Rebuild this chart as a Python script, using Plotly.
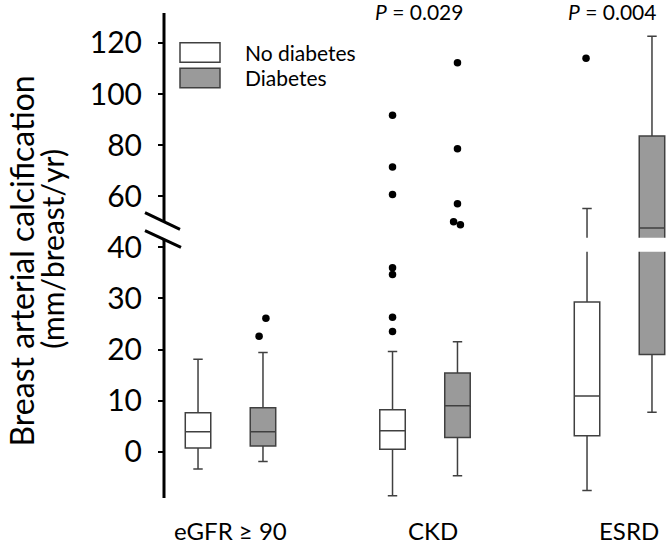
import plotly.graph_objects as go

# ---------------- data ----------------
groups = ["eGFR ≥ 90", "CKD", "ESRD"]
series_names = ["No diabetes", "Diabetes"]

nodiab_low = [-3.4, -8.6, -7.6]
nodiab_q1 = [0.7, 0.5, 3.1]
nodiab_med = [3.9, 4.1, 10.9]
nodiab_q3 = [7.6, 8.2, 29.3]
nodiab_high = [18.1, 19.6, 55.2]

diab_low = [-1.9, -4.7, 7.7]
diab_q1 = [1.1, 2.8, 19.0]
diab_med = [3.9, 9.0, 47.6]
diab_q3 = [8.6, 15.4, 83.6]
diab_high = [19.4, 21.5, 122.6]

nodiab_outliers = [[], [23.5, 26.3, 34.7, 36.0, 60.7, 71.4, 91.7], [114.0]]
diab_outliers = [[22.6, 26.1], [48.8, 50.0, 57.0, 78.6, 112.2], []]

p_values = ["", "0.029", "0.004"]
ytick_values = [0, 10, 20, 30, 40, 60, 80, 100, 120]

# ---------------- style ----------------
BREAK = 40.0          # axis break: above this the scale is compressed 2x
OFFSET = 0.167        # half distance between the two boxes in a group
BOXW = 0.131
FONT = "Lato"
LINE = "#404040"
GRAY = "#9a9a9a"
nodiab_jitter = [[], [0, 0, 0, 0, 0, 0, 0], [-0.005]]
diab_jitter = [[-0.02, 0.015], [0.015, -0.02, 0, 0, 0], []]
label_shift = [0.0, 0.04, 0.05]
p_shift = [0.0, -0.03, -0.04]

# plot-area geometry in pixels
W, H = 667, 545
L, R, T, B = 164, 0, 13, 47
PW, PH = W - L - R, H - T - B


def brk(v):
    return v if v <= BREAK else BREAK + (v - BREAK) / 2.0


def px(x):
    return (x - L) / PW


def py(y):
    return (H - B - y) / PH


fig = go.Figure()

for name, low, q1, med, q3, high, fill, sign in [
    (series_names[0], nodiab_low, nodiab_q1, nodiab_med, nodiab_q3, nodiab_high, "white", -1),
    (series_names[1], diab_low, diab_q1, diab_med, diab_q3, diab_high, GRAY, 1),
]:
    fig.add_trace(go.Box(
        name=name,
        x=[i + sign * OFFSET for i in range(len(groups))],
        lowerfence=[brk(v) for v in low],
        q1=[brk(v) for v in q1],
        median=[brk(v) for v in med],
        q3=[brk(v) for v in q3],
        upperfence=[brk(v) for v in high],
        width=BOXW,
        whiskerwidth=0.37,
        fillcolor=fill,
        line=dict(color=LINE, width=1.5),
        boxpoints=False,
        showlegend=False,
        hoverinfo="skip",
    ))

for outl, jit, sign in [(nodiab_outliers, nodiab_jitter, -1), (diab_outliers, diab_jitter, 1)]:
    xs, ys = [], []
    for i, (vals, js) in enumerate(zip(outl, jit)):
        for v, j in zip(vals, js):
            xs.append(i + sign * OFFSET + j)
            ys.append(brk(v))
    fig.add_trace(go.Scatter(x=xs, y=ys, mode="markers",
                             marker=dict(color="black", size=7.5),
                             showlegend=False, hoverinfo="skip", cliponaxis=False))

shapes = []
# gap in boxes at the break
shapes.append(dict(type="rect", xref="paper", yref="paper",
                   x0=px(170), x1=1.0, y0=py(251.7), y1=py(237.7),
                   fillcolor="white", line=dict(width=0), layer="above"))
# y axis line in two pieces
shapes.append(dict(type="line", xref="paper", yref="paper", x0=0, x1=0,
                   y0=py(T), y1=py(221.7), line=dict(color="black", width=3)))
shapes.append(dict(type="line", xref="paper", yref="paper", x0=0, x1=0,
                   y0=py(239.5), y1=py(H - B), line=dict(color="black", width=3)))
# break marks
shapes.append(dict(type="line", xref="paper", yref="paper", x0=px(145), x1=px(180),
                   y0=py(212.7), y1=py(229.3), line=dict(color="black", width=3)))
shapes.append(dict(type="line", xref="paper", yref="paper", x0=px(145), x1=px(181),
                   y0=py(230.7), y1=py(247.3), line=dict(color="black", width=3)))
# legend boxes
shapes.append(dict(type="rect", xref="paper", yref="paper", x0=px(180), x1=px(220),
                   y0=py(62.3), y1=py(42.7), fillcolor="white",
                   line=dict(color=LINE, width=1.5)))
shapes.append(dict(type="rect", xref="paper", yref="paper", x0=px(180), x1=px(220),
                   y0=py(87.7), y1=py(68.3), fillcolor=GRAY,
                   line=dict(color=LINE, width=1.5)))

annotations = []
annotations.append(dict(text=series_names[0], xref="paper", yref="paper", x=px(243), y=py(52.5),
                        xanchor="left", yanchor="middle", showarrow=False,
                        font=dict(family=FONT, size=21, color="black")))
annotations.append(dict(text=series_names[1], xref="paper", yref="paper", x=px(243), y=py(78),
                        xanchor="left", yanchor="middle", showarrow=False,
                        font=dict(family=FONT, size=21, color="black")))
for i, g in enumerate(groups):
    annotations.append(dict(text=g, xref="x", yref="paper", x=i + label_shift[i], y=py(530),
                            xanchor="center", yanchor="middle", showarrow=False,
                            font=dict(family=FONT, size=24, color="black")))
    if p_values[i]:
        annotations.append(dict(text="<i>P</i> = " + p_values[i], xref="x", yref="paper",
                                x=i + p_shift[i], y=py(11), xanchor="center", yanchor="middle",
                                showarrow=False, font=dict(family=FONT, size=21, color="black")))
annotations.append(dict(text="Breast arterial calcification", xref="paper", yref="paper",
                        x=px(21), y=py(261.5), textangle=-90, xanchor="center", yanchor="middle",
                        showarrow=False, font=dict(family=FONT, size=32, color="black")))
annotations.append(dict(text="(mm/breast/yr)", xref="paper", yref="paper",
                        x=px(52), y=py(248.7), textangle=-90, xanchor="center", yanchor="middle",
                        showarrow=False, font=dict(family=FONT, size=30, color="black")))

fig.update_layout(
    width=W, height=H,
    margin=dict(l=L, r=R, t=T, b=B, pad=0),
    paper_bgcolor="white", plot_bgcolor="white",
    shapes=shapes, annotations=annotations,
    xaxis=dict(range=[(L - 230.5) / 194.5, (W - R - 230.5) / 194.5],
               showgrid=False, zeroline=False, showline=False,
               showticklabels=False, ticks=""),
    yaxis=dict(range=[(451.7 - (H - B)) / 5.11, (451.7 - T) / 5.11],
               tickvals=[brk(v) for v in ytick_values],
               ticktext=[str(v) for v in ytick_values],
               ticks="outside", ticklen=5, tickwidth=2, tickcolor="black",
               showgrid=False, zeroline=False, showline=False,
               tickfont=dict(family=FONT, size=30, color="black"),
               ticklabelstandoff=10),
)

fig.write_html("out.html", config={"displayModeBar": False},
               post_script="document.body.style.margin='0px';")
